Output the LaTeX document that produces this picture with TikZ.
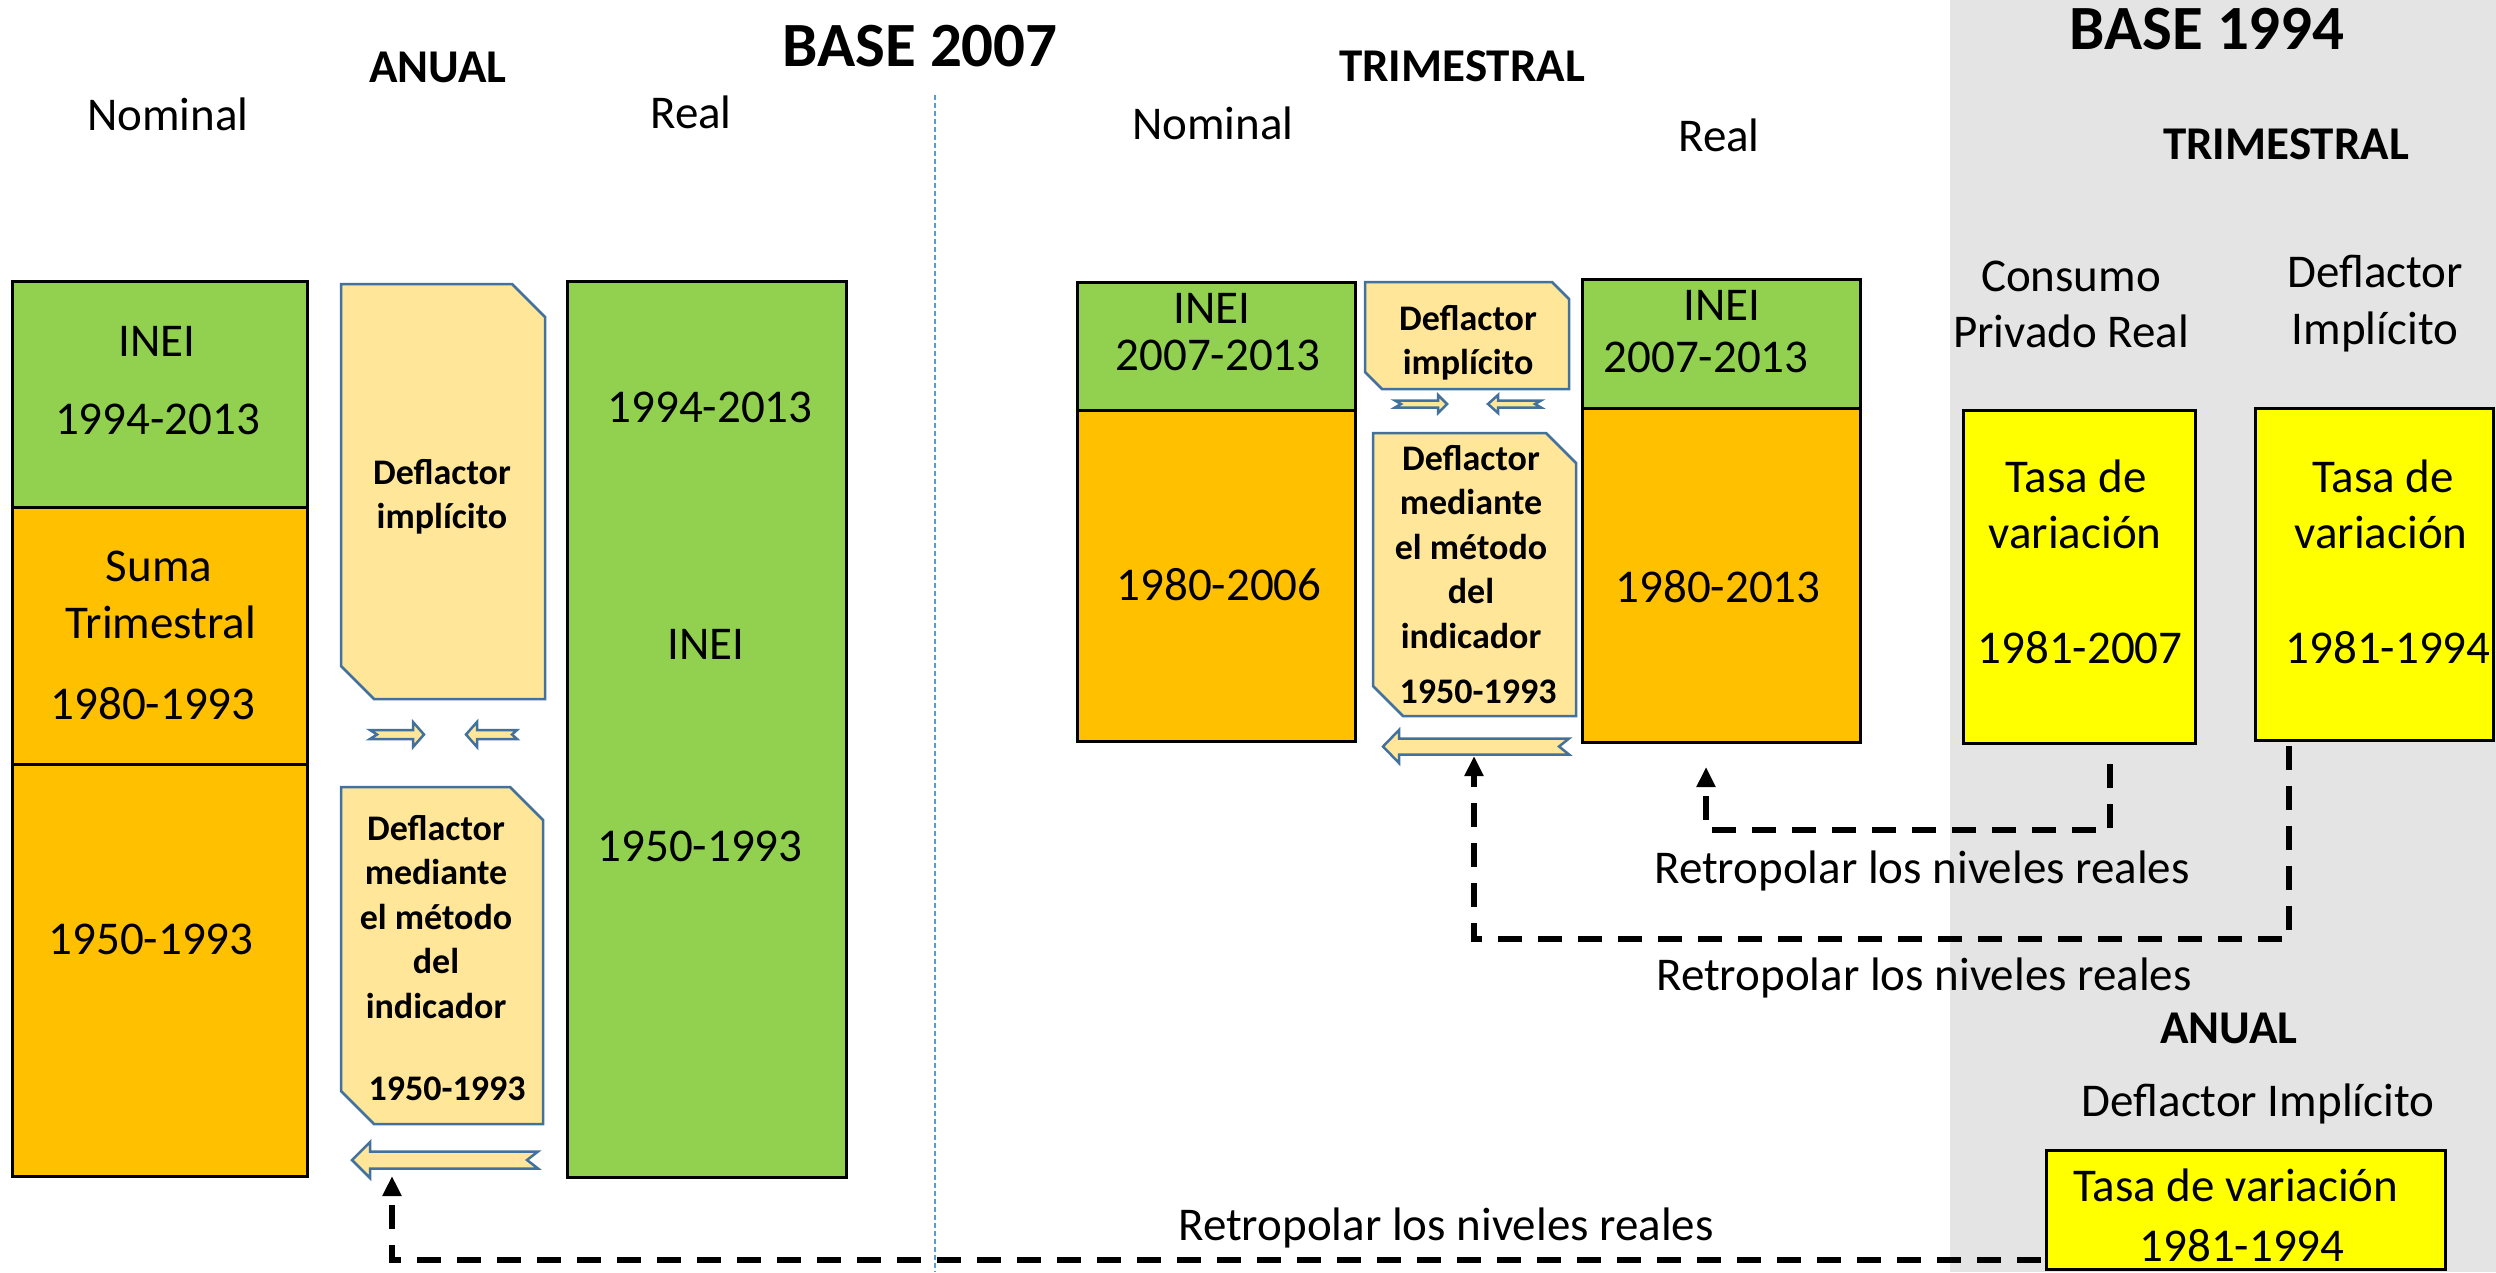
\documentclass[tikz,border=0pt]{standalone}
\usepackage{fontspec}
\setmainfont{Carlito}
\usetikzlibrary{arrows.meta,calc}
\definecolor{cgreen}{HTML}{92D050}
\definecolor{corange}{HTML}{FFC000}
\definecolor{cyellow}{HTML}{FFFF00}
\definecolor{cpale}{HTML}{FFE699}
\definecolor{cblue}{HTML}{41719C}
\definecolor{cgray}{HTML}{E4E4E4}
\definecolor{cdot}{HTML}{5B9BD5}
\newcommand\snipshape[2]{%
  \draw[snip] (#1.north west) -- ([xshift=-#2pt]#1.north east) -- ([yshift=-#2pt]#1.north east)
    -- (#1.south east) -- ([xshift=#2pt]#1.south west) -- ([yshift=#2pt]#1.south west) -- cycle;}
\newcommand\blockarrow[7]{% tail, tip, y, s, h, L, n
  \draw[snip] (#1,{#3-#4}) -- ({#2-(#6)},{#3-#4}) -- ({#2-(#6)},{#3-#5}) -- (#2,#3)
    -- ({#2-(#6)},{#3+#5}) -- ({#2-(#6)},{#3+#4}) -- (#1,{#3+#4}) -- ({#1+(#7)},#3) -- cycle;}
\begin{document}
\begin{tikzpicture}[x=1pt,y=-1pt,
  box/.style={draw=black, line width=3pt, inner sep=0pt, outer sep=0pt},
  area/.style={inner sep=0pt, outer sep=0pt},
  txt/.style={anchor=base, inner sep=0pt, font=\fontsize{47}{57}\selectfont},
  hdr/.style={anchor=base, inner sep=0pt, font=\fontsize{47}{57}\selectfont\bfseries},
  ttl/.style={anchor=base, inner sep=0pt, font=\fontsize{63}{76}\selectfont\bfseries},
  dtxt/.style={anchor=base, inner sep=0pt, font=\fontsize{36}{44.5}\selectfont\bfseries},
  snip/.style={fill=cpale, draw=cblue, line width=2.5pt, line join=miter},
  conn/.style={line width=6pt, dash pattern=on 24pt off 16pt, -{Triangle[length=20pt,width=18pt]}},
]
\useasboundingbox (0,0) rectangle (2496,1272);
\fill[cgray] (1950,0) rectangle (2496,1272);
\draw[cdot, line width=1.5pt, dash pattern=on 5pt off 3pt] (935,95) -- (935,1272);

% headers
\node[ttl] (base07) at (920,66) {BASE 2007};
\node[hdr] (anual) at (438,82) {ANUAL};
\node[txt] (nomA) at (168,130) {Nominal};
\node[txt] (realA) at (691,128) {Real};
\node[hdr] (trim) at (1462,81) {TRIMESTRAL};
\node[txt] (nomT) at (1213,139) {Nominal};
\node[txt] (realT) at (1719,151) {Real};
\node[ttl] (base94) at (2207,49) {BASE 1994};
\node[hdr] (trim94) at (2286,159) {TRIMESTRAL};
\node[txt] (cons) at (2071,291) {Consumo};
\node[txt] (priv) at (2071,347) {Privado Real};
\node[txt] (defl) at (2375,287) {Deflactor};
\node[txt] (impl) at (2375,344) {Implícito};
\node[hdr] (anual94) at (2229,1043) {ANUAL};
\node[txt] (deflA) at (2258,1116) {Deflactor Implícito};

% anual nominal column
\node[box, fill=cgreen, minimum width=295, minimum height=226] (ln1) at (159.5,394) {};
\node[box, fill=corange, minimum width=295, minimum height=257] (ln2) at (159.5,635.5) {};
\node[box, fill=corange, minimum width=295, minimum height=412] (ln3) at (159.5,970) {};
\node[txt] (ln1a) at (157,356) {INEI};
\node[txt] (ln1b) at (157.5,434) {1994-2013};
\node[txt] (ln2a) at (159,581) {Suma};
\node[txt] (ln2b) at (161,638) {Trimestral};
\node[txt] (ln2c) at (153,719) {1980-1993};
\node[txt] (ln3a) at (151,954) {1950-1993};

% anual real column
\node[box, fill=cgreen, minimum width=279, minimum height=896] (ar) at (706.5,729) {};
\node[txt] (ara) at (710,422) {1994-2013};
\node[txt] (arb) at (706,659) {INEI};
\node[txt] (arc) at (700,861) {1950-1993};

% anual deflactors
\node[area, minimum width=204, minimum height=415] (ad1) at (443,491.5) {};
\snipshape{ad1}{33}
\node[dtxt] (ad1t) at (442,484) {\begin{tabular}[t]{@{}c@{}}Deflactor\\implícito\end{tabular}};
\node[area, minimum width=202, minimum height=337] (ad2) at (442,955.5) {};
\snipshape{ad2}{33}
\node[dtxt] (ad2t) at (436,840) {\begin{tabular}[t]{@{}c@{}}Deflactor\\mediante\\el método\\del\\indicador\end{tabular}};
\node[dtxt] (ad2y) at (447,1100) {1950-1993};
\blockarrow{370}{424}{734.5}{4.5}{12.5}{11}{7}
\blockarrow{517}{466}{734.5}{4.5}{12.5}{-11}{-5}
\blockarrow{538}{352}{1160}{8.5}{18}{-18}{-11}

% trimestral nominal
\node[box, fill=cgreen, minimum width=278, minimum height=128] (tn1) at (1216,346) {};
\node[box, fill=corange, minimum width=278, minimum height=331] (tn2) at (1216,575.5) {};
\node[txt] (tn1a) at (1212,323) {INEI};
\node[txt] (tn1b) at (1218,370) {2007-2013};
\node[txt] (tn2a) at (1219,600) {1980-2006};

% trimestral real
\node[box, fill=cgreen, minimum width=278, minimum height=129] (tr1) at (1721,343.5) {};
\node[box, fill=corange, minimum width=278, minimum height=334] (tr2) at (1721,575) {};
\node[txt] (tr1a) at (1722,320) {INEI};
\node[txt] (tr1b) at (1706,372) {2007-2013};
\node[txt] (tr2a) at (1718,602) {1980-2013};

% trimestral deflactors
\node[area, minimum width=204, minimum height=107] (td1) at (1467,335.5) {};
\snipshape{td1}{17}
\node[dtxt] (td1t) at (1468,330) {\begin{tabular}[t]{@{}c@{}}Deflactor\\implícito\end{tabular}};
\node[area, minimum width=203, minimum height=283] (td2) at (1474.5,574.5) {};
\snipshape{td2}{30}
\node[dtxt] (td2t) at (1471,470) {\begin{tabular}[t]{@{}c@{}}Deflactor\\mediante\\el método\\del\\indicador\end{tabular}};
\node[dtxt] (td2y) at (1478,703) {1950-1993};
\blockarrow{1395}{1447}{404}{3.5}{9}{9}{6}
\blockarrow{1541}{1488}{404}{3.5}{9}{-10}{-6}
\blockarrow{1569}{1383}{746.5}{8}{16.5}{-16}{-10}

% base 1994 boxes
\node[box, fill=cyellow, minimum width=232, minimum height=333] (yb1) at (2079,576.5) {};
\node[txt] (yb1a) at (2076,492) {Tasa de};
\node[txt] (yb1b) at (2075,548) {variación};
\node[txt] (yb1c) at (2080,663) {1981-2007};
\node[box, fill=cyellow, minimum width=238, minimum height=332] (yb2) at (2374,574) {};
\node[txt] (yb2a) at (2383,492) {Tasa de};
\node[txt] (yb2b) at (2381,548) {variación};
\node[txt] (yb2c) at (2388,663) {1981-1994};
\node[box, fill=cyellow, minimum width=399, minimum height=119] (yb3) at (2245.5,1209.5) {};
\node[txt] (yb3a) at (2236,1201) {Tasa de variación};
\node[txt] (yb3b) at (2242,1261) {1981-1994};

% connectors
\coordinate (k1) at (2110,830);
\coordinate (t1) at (1706,767);
\coordinate (k2) at (2289,939);
\coordinate (t2) at (1474,756);
\coordinate (k3) at (392,1260);
\coordinate (t3) at (392,1176);
\draw[conn] ([yshift=-21pt]yb1.south -| k1) -- (k1) -| (t1);
\draw[conn] ([yshift=-6pt]yb2.south -| k2) -- (k2) -| (t2);
\draw[conn] ([xshift=-5pt]yb3.west |- k3) -- (k3) -- (t3);
\node[txt] (r1) at (1922,883) {Retropolar los niveles reales};
\node[txt] (r2) at (1924,990) {Retropolar los niveles reales};
\node[txt] (r3) at (1446,1240) {Retropolar los niveles reales};
\end{tikzpicture}
\end{document}
